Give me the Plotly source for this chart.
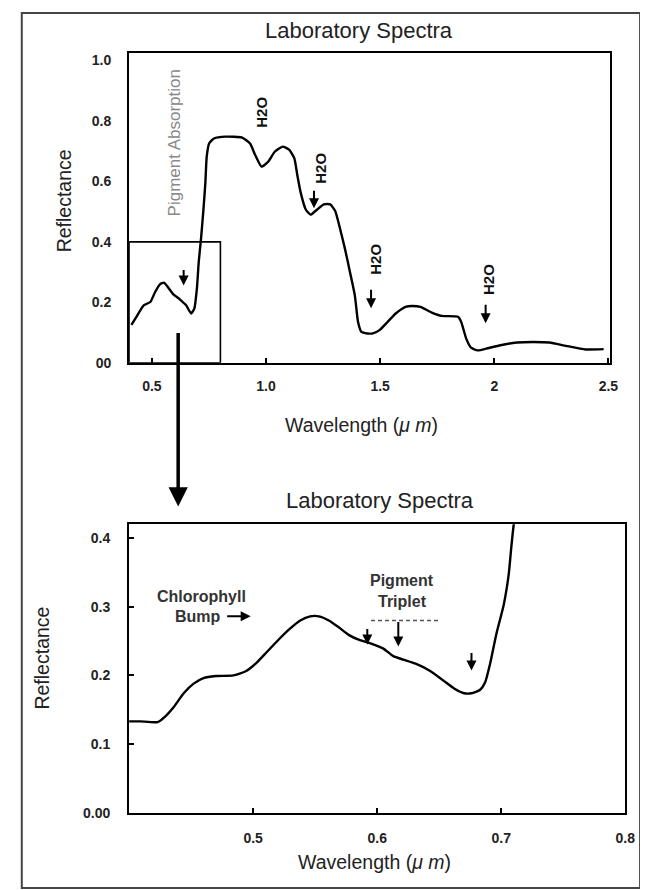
import plotly.graph_objects as go

# ---------------- data ----------------
top_wavelength = [0.41, 0.436, 0.464, 0.493, 0.514, 0.536, 0.553, 0.572, 0.593, 0.622, 0.65, 0.672,
                  0.686, 0.697, 0.705, 0.715, 0.725, 0.734, 0.74, 0.751, 0.772, 0.823, 0.895, 0.93,
                  0.952, 0.98, 1.009, 1.038, 1.073, 1.102, 1.124, 1.138, 1.152, 1.174, 1.195, 1.224,
                  1.253, 1.281, 1.303, 1.325, 1.346, 1.368, 1.389, 1.403, 1.418, 1.445, 1.468, 1.497,
                  1.532, 1.568, 1.611, 1.64, 1.676, 1.726, 1.769, 1.841, 1.855, 1.877, 1.898, 1.927,
                  1.97, 2.027, 2.099, 2.17, 2.242, 2.314, 2.4, 2.479]
top_reflectance = [0.125, 0.157, 0.19, 0.201, 0.234, 0.26, 0.265, 0.248, 0.227, 0.21, 0.19, 0.163,
                   0.18, 0.245, 0.333, 0.41, 0.5, 0.594, 0.682, 0.726, 0.742, 0.748, 0.745, 0.725,
                   0.688, 0.649, 0.665, 0.698, 0.715, 0.704, 0.676, 0.616, 0.562, 0.507, 0.49, 0.507,
                   0.524, 0.524, 0.502, 0.441, 0.376, 0.299, 0.223, 0.135, 0.102, 0.097, 0.097, 0.108,
                   0.135, 0.163, 0.185, 0.188, 0.185, 0.166, 0.155, 0.152, 0.135, 0.08, 0.05, 0.041,
                   0.048, 0.058, 0.067, 0.069, 0.067, 0.056, 0.044, 0.045]

zoom_wavelength = [0.4, 0.409, 0.423, 0.429, 0.436, 0.444, 0.452, 0.46, 0.47, 0.484, 0.494, 0.502,
                   0.511, 0.521, 0.529, 0.538, 0.546, 0.553, 0.561, 0.569, 0.577, 0.585, 0.594,
                   0.605, 0.613, 0.621, 0.631, 0.642, 0.653, 0.662, 0.67, 0.676, 0.683, 0.687,
                   0.691, 0.696, 0.702, 0.706, 0.708, 0.71, 0.712]
zoom_reflectance = [0.133, 0.133, 0.132, 0.14, 0.154, 0.174, 0.188, 0.196, 0.199, 0.2, 0.206, 0.217,
                    0.234, 0.253, 0.267, 0.28, 0.286, 0.286, 0.28, 0.27, 0.259, 0.252, 0.247,
                    0.239, 0.228, 0.223, 0.217, 0.207, 0.193, 0.181, 0.174, 0.174, 0.179, 0.19,
                    0.217, 0.26, 0.303, 0.347, 0.385, 0.419, 0.44]

top_xtick_vals = [0.5, 1.0, 1.5, 2.0, 2.5]
top_xtick_text = ["0.5", "1.0", "1.5", "2", "2.5"]
top_ytick_vals = [0.0, 0.2, 0.4, 0.6, 0.8, 1.0]
top_ytick_text = ["00", "0.2", "0.4", "0.6", "0.8", "1.0"]
zoom_xtick_vals = [0.5, 0.6, 0.7, 0.8]
zoom_xtick_text = ["0.5", "0.6", "0.7", "0.8"]
zoom_ytick_vals = [0.0, 0.1, 0.2, 0.3, 0.4]
zoom_ytick_text = ["0.00", "0.1", "0.2", "0.3", "0.4"]

inset_x = [0.4, 0.8]
inset_y = [0.0, 0.40]

# ---------------- figure ----------------
W, H = 648, 890
FONT = "Arial, Liberation Sans, sans-serif"


def px(x):
    return x / W


def py(y):
    return 1 - y / H


fig = go.Figure()
fig.add_trace(go.Scatter(x=top_wavelength, y=top_reflectance, mode="lines",
                         line=dict(color="black", width=2.4, shape="spline", smoothing=0.5),
                         xaxis="x", yaxis="y", showlegend=False, hoverinfo="skip"))
fig.add_trace(go.Scatter(x=zoom_wavelength, y=zoom_reflectance, mode="lines",
                         line=dict(color="black", width=2.4, shape="spline", smoothing=0.5),
                         xaxis="x2", yaxis="y2", showlegend=False, hoverinfo="skip"))

tickfont = dict(family=FONT, size=14, color="#222", weight="bold")
axis_common = dict(showline=True, linecolor="black", linewidth=2, mirror=True,
                   showgrid=False, zeroline=False, tickfont=tickfont)

fig.update_layout(
    width=W, height=H,
    margin=dict(l=0, r=0, t=0, b=0),
    paper_bgcolor="white", plot_bgcolor="white",
    showlegend=False,
    xaxis=dict(domain=[px(123), px(611)], anchor="y", range=[0.4, 2.505],
               tickvals=top_xtick_vals, ticktext=top_xtick_text,
               ticks="inside", ticklen=5, tickwidth=1.5, tickcolor="black",
               ticklabelstandoff=9, **axis_common),
    yaxis=dict(domain=[py(358), py(45)], anchor="x", range=[0, 1.026],
               tickvals=top_ytick_vals, ticktext=top_ytick_text,
               ticks="", ticklabelstandoff=13, **axis_common),
    xaxis2=dict(domain=[px(123), px(627)], anchor="y2", range=[0.4, 0.8],
                tickvals=zoom_xtick_vals, ticktext=zoom_xtick_text,
                ticks="inside", ticklen=5, tickwidth=1.5, tickcolor="black",
                ticklabelstandoff=11, **axis_common),
    yaxis2=dict(domain=[py(812), py(521)], anchor="x2", range=[0, 0.42],
                tickvals=zoom_ytick_vals, ticktext=zoom_ytick_text,
                ticks="inside", ticklen=5, tickwidth=1.5, tickcolor="black",
                ticklabelstandoff=14, **axis_common),
)

# shapes
fig.add_shape(type="rect", xref="paper", yref="paper",
              x0=px(14), x1=px(642), y0=py(888), y1=py(5),
              line=dict(color="#444", width=2))
fig.add_shape(type="rect", xref="x", yref="y",
              x0=inset_x[0], x1=inset_x[1], y0=inset_y[0], y1=inset_y[1],
              line=dict(color="black", width=1.6))
fig.add_shape(type="line", xref="x2", yref="y2", x0=0.595, x1=0.649, y0=0.28, y1=0.28,
              line=dict(color="#555", width=1.5, dash="4px,3px"))

title_font = dict(family=FONT, size=22, color="#222")
axis_title_font = dict(family=FONT, size=19.5, color="#222")
h2o_font = dict(family=FONT, size=15, color="#111", weight="bold")
note_font = dict(family=FONT, size=16, color="#333", weight="bold")

ann = []
# titles
ann.append(dict(text="Laboratory Spectra", x=px(356), y=py(23), xref="paper", yref="paper",
                showarrow=False, font=title_font, xanchor="center", yanchor="middle"))
ann.append(dict(text="Laboratory Spectra", x=px(378), y=py(497), xref="paper", yref="paper",
                showarrow=False, font=title_font, xanchor="center", yanchor="middle"))
# axis titles
ann.append(dict(text="Wavelength (<i>\u03bc m</i>)", x=px(359), y=py(421), xref="paper", yref="paper",
                showarrow=False, font=axis_title_font, xanchor="center", yanchor="middle"))
ann.append(dict(text="Wavelength (<i>\u03bc m</i>)", x=px(372), y=py(862), xref="paper", yref="paper",
                showarrow=False, font=axis_title_font, xanchor="center", yanchor="middle"))
ann.append(dict(text="Reflectance", x=px(57), y=py(195), xref="paper", yref="paper", textangle=-90,
                showarrow=False, font=axis_title_font, xanchor="center", yanchor="middle"))
ann.append(dict(text="Reflectance", x=px(35), y=py(656), xref="paper", yref="paper", textangle=-90,
                showarrow=False, font=axis_title_font, xanchor="center", yanchor="middle"))

# top panel labels
ann.append(dict(text="Pigment Absorption", x=0.6, y=0.728, xref="x", yref="y", textangle=-90,
                showarrow=False, font=dict(family=FONT, size=17, color="#888")))
for (tx, ty) in [(0.982, 0.83), (1.238, 0.643), (1.482, 0.341), (1.974, 0.275)]:
    ann.append(dict(text="H2O", x=tx, y=ty, xref="x", yref="y", textangle=-90,
                    showarrow=False, font=h2o_font))
for (axx, tipy, length) in [(0.639, 0.256, 17), (1.21, 0.511, 19), (1.46, 0.18, 20), (1.962, 0.131, 20)]:
    ann.append(dict(text="", x=axx, y=tipy, xref="x", yref="y", ax=0, ay=-length,
                    showarrow=True, arrowhead=2, arrowsize=1, arrowwidth=2, arrowcolor="black"))

# big connecting arrow
ann.append(dict(text="", x=0.615, y=py(503), xref="x", yref="paper", ax=0, ay=-175,
                showarrow=True, arrowhead=2, arrowsize=1.1, arrowwidth=3.5, arrowcolor="black"))

# bottom panel labels
ann.append(dict(text="Chlorophyll", x=0.458, y=0.315, xref="x2", yref="y2",
                showarrow=False, font=note_font))
ann.append(dict(text="Bump", x=0.476, y=0.286, xref="x2", yref="y2", xanchor="right",
                showarrow=False, font=note_font))
ann.append(dict(text="", x=0.498, y=0.286, xref="x2", yref="y2", ax=-25, ay=0,
                showarrow=True, arrowhead=2, arrowsize=1, arrowwidth=2, arrowcolor="black"))
ann.append(dict(text="Pigment", x=0.62, y=0.338, xref="x2", yref="y2",
                showarrow=False, font=note_font))
ann.append(dict(text="Triplet", x=0.62, y=0.308, xref="x2", yref="y2",
                showarrow=False, font=note_font))
for (axx, tipy, length) in [(0.592, 0.245, 17), (0.617, 0.242, 26), (0.676, 0.207, 19)]:
    ann.append(dict(text="", x=axx, y=tipy, xref="x2", yref="y2", ax=0, ay=-length,
                    showarrow=True, arrowhead=2, arrowsize=1, arrowwidth=2, arrowcolor="black"))

fig.update_layout(annotations=ann)
fig.write_html("out.html")
